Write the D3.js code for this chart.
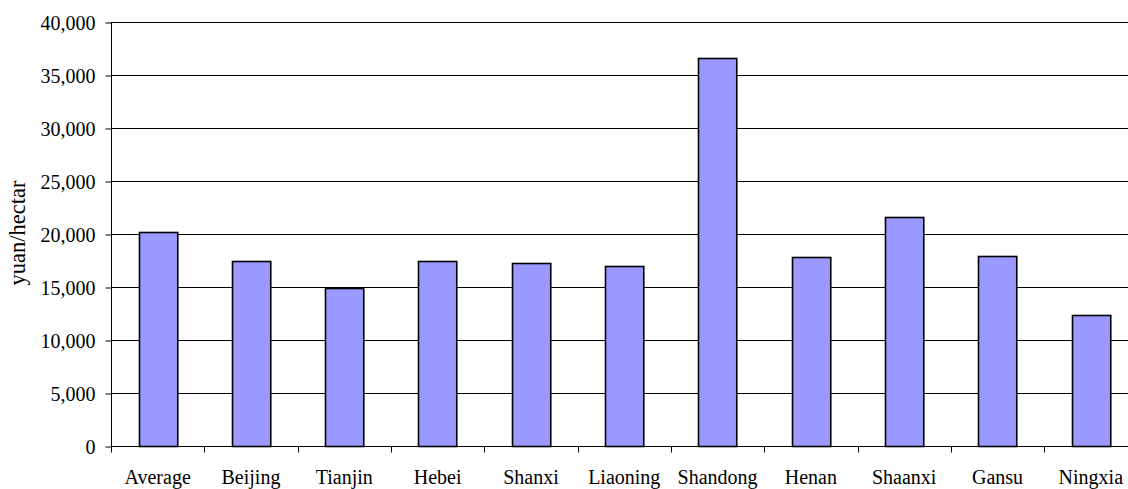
<!DOCTYPE html>
<html>
<head>
<meta charset="utf-8">
<script src="https://cdn.jsdelivr.net/npm/d3@7"></script>
<style>
  html, body { margin: 0; padding: 0; background: #fff; overflow: hidden; }
  svg { display: block; }
</style>
</head>
<body>
<svg id="chart" width="1128" height="489"></svg>
<script>
const categories = ["Average", "Beijing", "Tianjin", "Hebei", "Shanxi", "Liaoning", "Shandong", "Henan", "Shaanxi", "Gansu", "Ningxia"];
const values = [20160, 17440, 14950, 17420, 17220, 16960, 36610, 17850, 21600, 17950, 12400];
const yTicks = [0, 5000, 10000, 15000, 20000, 25000, 30000, 35000, 40000];
const yLabel = "yuan/hectar";

(function () {
const FONT = '"Liberation Serif", "Times New Roman", Times, serif';
const svg = d3.select("#chart");
const pLeft = 111, pRight = 1137.5, pTop = 22, pBottom = 446;

const x = d3.scaleBand().domain(categories).range([pLeft, pRight]).paddingInner(0.59).paddingOuter(0.295);
const y = d3.scaleLinear().domain([0, 40000]).range([pBottom, pTop]);

// gridlines
svg.append("g").selectAll("line").data(yTicks.filter(d => d > 0)).join("line")
  .attr("x1", pLeft).attr("x2", pRight)
  .attr("y1", d => Math.round(y(d)) + 0.5).attr("y2", d => Math.round(y(d)) + 0.5)
  .attr("stroke", "#000").attr("stroke-width", 1);

// bars
svg.append("g").selectAll("rect").data(values).join("rect")
  .attr("x", (d, i) => Math.round(x(categories[i])) + 0.5)
  .attr("y", d => Math.round(y(d)) + 0.5)
  .attr("width", x.bandwidth())
  .attr("height", d => Math.round(pBottom) - Math.round(y(d)))
  .attr("fill", "#9999FF").attr("stroke", "#000").attr("stroke-width", 1.6);

// y axis
const yAxis = d3.axisLeft(y).tickValues(yTicks).tickFormat(d3.format(",")).tickSize(6).tickPadding(10);
const gy = svg.append("g").attr("transform", `translate(${pLeft + 0.5},0.5)`).call(yAxis);
gy.select(".domain").attr("stroke", "#000").attr("d", `M0,${pTop}V${pBottom}`);
gy.selectAll(".tick line").attr("stroke", "#000");
gy.selectAll("text").style("font-size", "20px").style("font-family", FONT).attr("fill", "#000").attr("dy", "0.34em");

// x axis
const boundaries = categories.map(c => x(c) - x.step() * x.paddingInner() / 2);
const gx = svg.append("g").attr("transform", `translate(0,${pBottom + 0.5})`);
gx.append("line").attr("x1", pLeft).attr("x2", pRight).attr("stroke", "#000");
gx.selectAll("line.t").data(boundaries).join("line").attr("class", "t")
  .attr("x1", d => Math.round(d) + 0.5).attr("x2", d => Math.round(d) + 0.5)
  .attr("y1", 0).attr("y2", 6).attr("stroke", "#000");
gx.selectAll("text").data(categories).join("text")
  .attr("x", d => x(d) + x.bandwidth() / 2)
  .attr("y", 37.5)
  .attr("text-anchor", "middle")
  .style("font-size", "20px").style("font-family", FONT).attr("fill", "#000")
  .text(d => d);

// y label
svg.append("text")
  .attr("transform", `translate(25,233) rotate(-90)`)
  .attr("text-anchor", "middle")
  .style("font-size", "22.5px").style("font-family", FONT).attr("fill", "#000")
  .text(yLabel);
})();
</script>
</body>
</html>
